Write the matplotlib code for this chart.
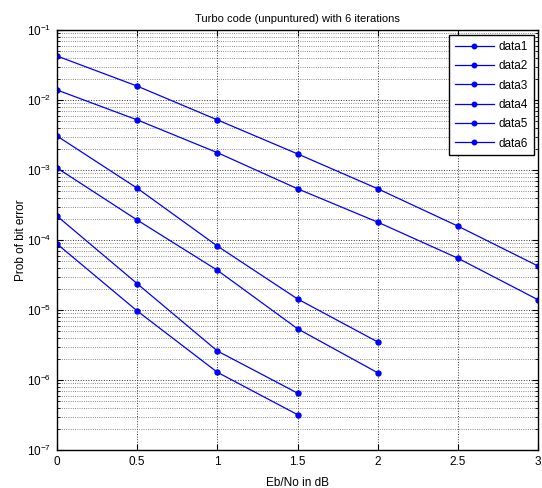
import matplotlib
matplotlib.use("Agg")
import matplotlib.pyplot as plt
from matplotlib.ticker import FixedLocator, NullFormatter

plt.rcParams['font.family'] = ['Liberation Sans', 'DejaVu Sans']
plt.rcParams['mathtext.default'] = 'regular'
plt.rcParams['axes.unicode_minus'] = False

ebno = [0, 0.5, 1, 1.5, 2, 2.5, 3]
data1 = [4.25e-2, 1.58e-2, 5.2e-3, 1.7e-3, 5.4e-4, 1.58e-4, 4.25e-5]
data2 = [1.39e-2, 5.2e-3, 1.77e-3, 5.4e-4, 1.8e-4, 5.5e-5, 1.4e-5]
data3 = [3.06e-3, 5.5e-4, 8.2e-5, 1.44e-5, 3.5e-6]
data4 = [1.07e-3, 1.93e-4, 3.7e-5, 5.4e-6, 1.27e-6]
data5 = [2.2e-4, 2.38e-5, 2.6e-6, 6.5e-7]
data6 = [8.8e-5, 9.7e-6, 1.29e-6, 3.2e-7]
series = [data1, data2, data3, data4, data5, data6]
labels = ['data1', 'data2', 'data3', 'data4', 'data5', 'data6']
xticks = [0, 0.5, 1, 1.5, 2, 2.5, 3]
xticklabels = ['0', '0.5', '1', '1.5', '2', '2.5', '3']
yexps = [-7, -6, -5, -4, -3, -2, -1]
yticklabels = [r'$10^{%d}$' % e for e in yexps]

fig = plt.figure(figsize=(5.42, 4.88), dpi=100)
ax = fig.add_axes([57/542, 1-450/488, 481/542, 420/488])

for vals, lab in zip(series, labels):
    ax.semilogy(ebno[:len(vals)], vals, '-', color='#0000ff', lw=0.9,
                marker='o', markersize=3.6, label=lab)

ax.set_xlim(0, 3)
ax.set_ylim(1e-7, 1e-1)
ax.xaxis.set_major_locator(FixedLocator(xticks))
ax.set_xticklabels(xticklabels)
ax.yaxis.set_major_locator(FixedLocator([10.0**e for e in yexps]))
ax.set_yticklabels(yticklabels)
ax.yaxis.set_minor_locator(FixedLocator([m * 10.0**e for e in yexps[:-1] for m in range(2, 10)]))
ax.yaxis.set_minor_formatter(NullFormatter())

ax.grid(True, which='major', color='#333333', linestyle=':', lw=0.7)
ax.grid(True, which='minor', axis='y', color='#666666', linestyle=':', lw=0.6)
ax.tick_params(which='both', direction='in', top=True, right=True, labelsize=8.5)
ax.tick_params(which='major', length=4, pad=4)
ax.tick_params(which='minor', length=2)
for s in ax.spines.values():
    s.set_linewidth(1.0)

ax.set_title('Turbo code (unpuntured) with 6 iterations', fontsize=8, pad=6)
ax.set_xlabel('Eb/No in dB', fontsize=8.5, labelpad=7)
ax.set_ylabel('Prob of bit error', fontsize=8.5, labelpad=0)

leg = ax.legend(loc='upper right', bbox_to_anchor=(0.992, 0.988), borderaxespad=0,
                fontsize=8.5, handlelength=3.3, labelspacing=0.62, fancybox=False,
                framealpha=1, edgecolor='black', borderpad=0.5, handletextpad=0.45,
                markerscale=0.9)
leg.get_frame().set_linewidth(1.0)

fig.savefig('out.png', dpi=100)
